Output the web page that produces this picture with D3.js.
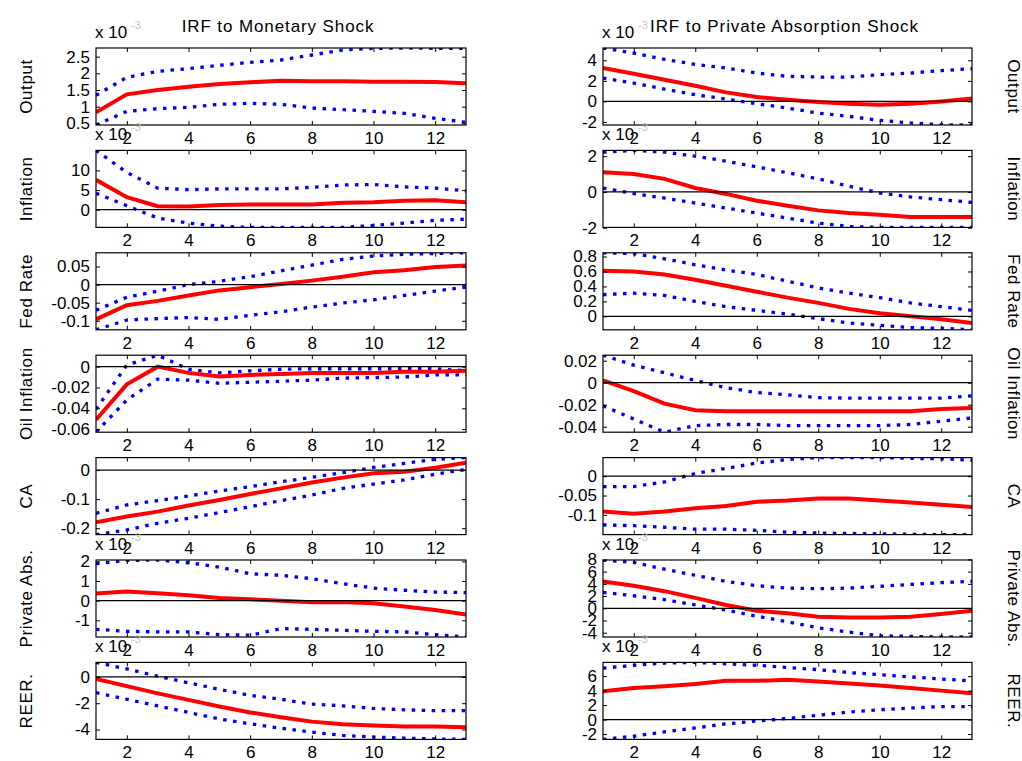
<!DOCTYPE html>
<html><head><meta charset="utf-8">
<script src="https://cdn.jsdelivr.net/npm/d3@7"></script>
<style>
body{margin:0;background:#fff}
svg{display:block}
text{font-family:"Liberation Sans",Arial,Helvetica,sans-serif;fill:#000}
</style>
</head><body>
<svg id="c" width="1022" height="761"></svg>
<script>
// ---------- data ----------
const horizon = [1,2,3,4,5,6,7,8,9,10,11,12,13];
const xTickValues = [2,4,6,8,10,12];
const variableNames = ["Output","Inflation","Fed Rate","Oil Inflation","CA","Private Abs.","REER."];
const shockTitles = ["IRF to Monetary Shock","IRF to Private Absorption Shock"];

// Monetary shock (left column)
const monOutputLo  = [0.45,0.86,0.94,0.98,1.07,1.1,1.07,0.96,0.91,0.86,0.8,0.65,0.53];
const monOutputMed = [0.83,1.37,1.5,1.6,1.68,1.73,1.78,1.76,1.76,1.75,1.75,1.74,1.7];
const monOutputHi  = [1.34,1.88,2.06,2.14,2.24,2.33,2.4,2.55,2.7,2.75,2.76,2.75,2.75];

const monInflLo  = [4.2,1.0,-2.1,-3.4,-4.2,-4.5,-4.5,-4.5,-4.5,-4.0,-3.4,-2.7,-2.4];
const monInflMed = [7.6,3.2,0.9,0.8,1.2,1.3,1.3,1.3,1.8,1.9,2.3,2.4,1.9];
const monInflHi  = [15.1,9.5,5.5,5.1,5.3,5.3,5.3,5.7,6.3,6.4,5.8,5.5,4.8];

const monFedLo  = [-0.125,-0.098,-0.094,-0.091,-0.096,-0.085,-0.075,-0.062,-0.051,-0.042,-0.03,-0.018,-0.007];
const monFedMed = [-0.096,-0.057,-0.045,-0.03,-0.016,-0.007,0.002,0.011,0.022,0.034,0.04,0.049,0.053];
const monFedHi  = [-0.071,-0.035,-0.018,0,0.009,0.022,0.038,0.054,0.07,0.079,0.084,0.086,0.088];

const monOilLo  = [-0.063,-0.032,-0.012,-0.013,-0.016,-0.015,-0.014,-0.013,-0.011,-0.0105,-0.01,-0.008,-0.008];
const monOilMed = [-0.051,-0.017,0.0,-0.006,-0.0095,-0.008,-0.007,-0.006,-0.006,-0.006,-0.005,-0.005,-0.004];
const monOilHi  = [-0.041,0.0016,0.011,-0.0025,-0.006,-0.004,-0.0025,-0.002,-0.002,-0.002,-0.002,-0.002,-0.004];

const monCALo  = [-0.222,-0.206,-0.183,-0.166,-0.146,-0.126,-0.105,-0.086,-0.063,-0.048,-0.034,-0.014,0.002];
const monCAMed = [-0.18,-0.16,-0.143,-0.122,-0.103,-0.082,-0.063,-0.043,-0.026,-0.011,-0.006,0.008,0.025];
const monCAHi  = [-0.149,-0.12,-0.105,-0.089,-0.072,-0.057,-0.04,-0.025,-0.009,0.009,0.023,0.037,0.043];

const monAbsLo  = [-1.46,-1.56,-1.59,-1.59,-1.73,-1.76,-1.42,-1.46,-1.51,-1.56,-1.59,-1.73,-1.85];
const monAbsMed = [0.36,0.47,0.38,0.27,0.14,0.07,0.0,-0.08,-0.07,-0.13,-0.3,-0.48,-0.7];
const monAbsHi  = [1.88,2.05,2.07,1.93,1.71,1.37,1.29,1.12,0.86,0.64,0.53,0.44,0.41];

const monReerLo  = [-1.2,-1.7,-2.2,-2.7,-3.2,-3.57,-3.9,-4.2,-4.45,-4.57,-4.65,-4.72,-4.75];
const monReerMed = [-0.15,-0.7,-1.25,-1.75,-2.25,-2.7,-3.07,-3.4,-3.6,-3.7,-3.77,-3.77,-3.82];
const monReerHi  = [1.1,0.6,0.05,-0.45,-0.95,-1.4,-1.7,-2.07,-2.2,-2.4,-2.5,-2.57,-2.57];

// Private absorption shock (right column)
const absOutputLo  = [2.27,1.78,1.2,0.65,0.23,-0.23,-0.65,-1.14,-1.46,-1.85,-2.1,-2.27,-2.3];
const absOutputMed = [3.25,2.7,2.1,1.53,0.88,0.42,0.16,-0.06,-0.23,-0.32,-0.23,0.0,0.29];
const absOutputHi  = [5.2,4.7,4.1,3.6,3.25,2.76,2.44,2.37,2.37,2.6,2.76,3.0,3.18];

const absInflLo  = [0.22,-0.09,-0.34,-0.62,-0.9,-1.18,-1.46,-1.74,-1.93,-1.98,-1.98,-1.98,-1.98];
const absInflMed = [1.1,1.0,0.73,0.22,-0.11,-0.49,-0.77,-1.03,-1.18,-1.27,-1.4,-1.4,-1.4];
const absInflHi  = [2.22,2.32,2.22,2.0,1.72,1.4,1.07,0.73,0.32,-0.06,-0.28,-0.43,-0.58];

const absFedLo  = [0.29,0.31,0.28,0.2,0.13,0.08,0.03,-0.03,-0.09,-0.12,-0.15,-0.16,-0.18];
const absFedMed = [0.61,0.6,0.56,0.49,0.41,0.33,0.25,0.18,0.1,0.04,0.0,-0.04,-0.09];
const absFedHi  = [0.85,0.84,0.77,0.69,0.62,0.56,0.47,0.38,0.31,0.25,0.18,0.13,0.08];

const absOilLo  = [-0.021,-0.033,-0.045,-0.039,-0.038,-0.038,-0.039,-0.039,-0.039,-0.039,-0.038,-0.035,-0.032];
const absOilMed = [0.002,-0.0076,-0.019,-0.025,-0.026,-0.026,-0.026,-0.026,-0.026,-0.026,-0.026,-0.024,-0.023];
const absOilHi  = [0.025,0.016,0.009,0.002,-0.0045,-0.009,-0.011,-0.0136,-0.014,-0.014,-0.014,-0.014,-0.012];

const absCALo  = [-0.126,-0.128,-0.132,-0.137,-0.137,-0.14,-0.145,-0.147,-0.148,-0.149,-0.15,-0.151,-0.151];
const absCAMed = [-0.091,-0.097,-0.091,-0.083,-0.077,-0.066,-0.063,-0.058,-0.058,-0.063,-0.068,-0.074,-0.08];
const absCAHi  = [-0.027,-0.027,-0.015,0.007,0.02,0.034,0.043,0.048,0.048,0.048,0.046,0.045,0.041];

const absAbsLo  = [2.6,2.05,1.4,0.55,-0.3,-1.3,-2.2,-3.2,-3.9,-4.5,-4.6,-4.7,-4.7];
const absAbsMed = [4.4,3.7,2.8,1.7,0.55,-0.4,-0.8,-1.4,-1.5,-1.5,-1.4,-0.95,-0.4];
const absAbsHi  = [7.9,7.5,6.4,5.4,4.4,3.7,3.3,3.2,3.3,3.6,3.9,4.2,4.4];

const absReerLo  = [-2.74,-2.3,-1.7,-1.15,-0.6,-0.2,0.15,0.6,1.05,1.35,1.6,1.8,1.8];
const absReerMed = [3.9,4.35,4.6,4.9,5.35,5.35,5.5,5.25,5.0,4.7,4.35,4.0,3.65];
const absReerHi  = [7.1,7.5,7.8,7.9,7.7,7.5,7.2,6.9,6.5,6.2,5.9,5.6,5.35];

// y tick values per row
const monYTicks = [[0.5,1,1.5,2,2.5],[0,5,10],[-0.1,-0.05,0,0.05],[-0.06,-0.04,-0.02,0],[-0.2,-0.1,0],[-1,0,1,2],[-4,-2,0]];
const absYTicks = [[-2,0,2,4],[-2,0,2],[0,0.2,0.4,0.6,0.8],[-0.04,-0.02,0,0.02],[-0.1,-0.05,0],[-4,-2,0,2,4,6,8],[-2,0,2,4,6]];
// axis exponent labels ("x 10^-3"), null = none
const monExponent = ["-3","-3",null,null,null,"-3","-3"];
const absExponent = ["-3","-3",null,null,null,"-3","-3"];

// ---------- layout ----------
const svg = d3.select("#c");
const colX = [[96,466],[603,972]];
const rowTop = i => 48 + i*102.4;
const panelH = 77;
const FONT = 17;

const columns = [
  {title: shockTitles[0], ticks: monYTicks, exps: monExponent, labelSide: "left",
   series: [[monOutputLo,monOutputMed,monOutputHi],[monInflLo,monInflMed,monInflHi],[monFedLo,monFedMed,monFedHi],
            [monOilLo,monOilMed,monOilHi],[monCALo,monCAMed,monCAHi],[monAbsLo,monAbsMed,monAbsHi],[monReerLo,monReerMed,monReerHi]]},
  {title: shockTitles[1], ticks: absYTicks, exps: absExponent, labelSide: "right",
   series: [[absOutputLo,absOutputMed,absOutputHi],[absInflLo,absInflMed,absInflHi],[absFedLo,absFedMed,absFedHi],
            [absOilLo,absOilMed,absOilHi],[absCALo,absCAMed,absCAHi],[absAbsLo,absAbsMed,absAbsHi],[absReerLo,absReerMed,absReerHi]]}
];

const fmt = v => String(+v.toFixed(6));

let clipId = 0;
columns.forEach((col, c) => {
  const [x0, x1] = colX[c];
  // title
  svg.append("text")
    .attr("x", (x0 + x1) / 2 - 3).attr("y", 32)
    .attr("text-anchor", "middle")
    .style("font-size", FONT + "px")
    .style("letter-spacing", "0.9px")
    .text(col.title);

  col.series.forEach((trip, r) => {
    const top = rowTop(r), bot = top + panelH;
    const [lo, med, hi] = trip;
    const x = d3.scaleLinear().domain([1, 13]).range([x0, x1]);
    const y = d3.scaleLinear().domain(d3.extent(lo.concat(med, hi))).range([bot, top]);
    const g = svg.append("g");

    const id = "clip" + (clipId++);
    svg.append("clipPath").attr("id", id).append("rect")
      .attr("x", x0).attr("y", top).attr("width", x1 - x0).attr("height", panelH);
    const plot = g.append("g").attr("clip-path", `url(#${id})`);

    const line = arr => d3.line().x((d, i) => x(horizon[i])).y(d => y(d))(arr);

    [lo, hi].forEach(band => {
      plot.append("path").attr("d", line(band)).attr("fill", "none")
        .attr("stroke", "#0000ff").attr("stroke-width", 3.3).attr("stroke-dasharray", "3.5,6.5");
    });
    plot.append("path").attr("d", line(med)).attr("fill", "none")
      .attr("stroke", "#ff0000").attr("stroke-width", 4);
    const [d0, d1] = y.domain();
    if (d0 <= 0 && d1 >= 0) {
      plot.append("path").attr("d", line(horizon.map(() => 0))).attr("fill", "none")
        .attr("stroke", "#000").attr("stroke-width", 1.2);
    }

    // axes (ticks inside, box)
    const axB = g.append("g").attr("transform", `translate(0,${bot})`)
      .call(d3.axisBottom(x).tickValues(xTickValues).tickSizeInner(-4).tickSizeOuter(0).tickPadding(7).tickFormat(fmt));
    const axT = g.append("g").attr("transform", `translate(0,${top})`)
      .call(d3.axisTop(x).tickValues(xTickValues).tickSizeInner(-4).tickSizeOuter(0).tickFormat(""));
    const axL = g.append("g").attr("transform", `translate(${x0},0)`)
      .call(d3.axisLeft(y).tickValues(col.ticks[r]).tickSizeInner(-4).tickSizeOuter(0).tickPadding(6).tickFormat(fmt));
    const axR = g.append("g").attr("transform", `translate(${x1},0)`)
      .call(d3.axisRight(y).tickValues(col.ticks[r]).tickSizeInner(-4).tickSizeOuter(0).tickFormat(""));
    [axB, axT, axL, axR].forEach(a => {
      a.select(".domain").remove();
      a.selectAll("line").attr("stroke", "#000").attr("stroke-width", 1);
      a.selectAll("text").style("font-size", FONT + "px").attr("font-family", null).style("fill", "#000");
    });
    g.append("rect").attr("x", x0).attr("y", top).attr("width", x1 - x0).attr("height", panelH)
      .attr("fill", "none").attr("stroke", "#000").attr("stroke-width", 1.2);

    // exponent label
    if (col.exps[r]) {
      svg.append("text").attr("x", x0 - 1).attr("y", top - 10)
        .style("font-size", FONT + "px").text("x 10");
      svg.append("text").attr("x", x0 + 35).attr("y", top - 19)
        .style("font-size", "11px").style("fill", "#c4c4c4").text(col.exps[r]);
    }

    // y label
    const cy = (top + bot) / 2;
    const lx = col.labelSide === "left" ? 26 : 1014;
    const rot = col.labelSide === "left" ? -90 : 90;
    svg.append("text").attr("transform", `translate(${lx},${cy}) rotate(${rot})`)
      .attr("text-anchor", "middle").attr("dy", "0.35em")
      .style("font-size", FONT + "px").style("letter-spacing", "0.6px")
      .text(variableNames[r]);
  });
});
</script>
</body></html>
